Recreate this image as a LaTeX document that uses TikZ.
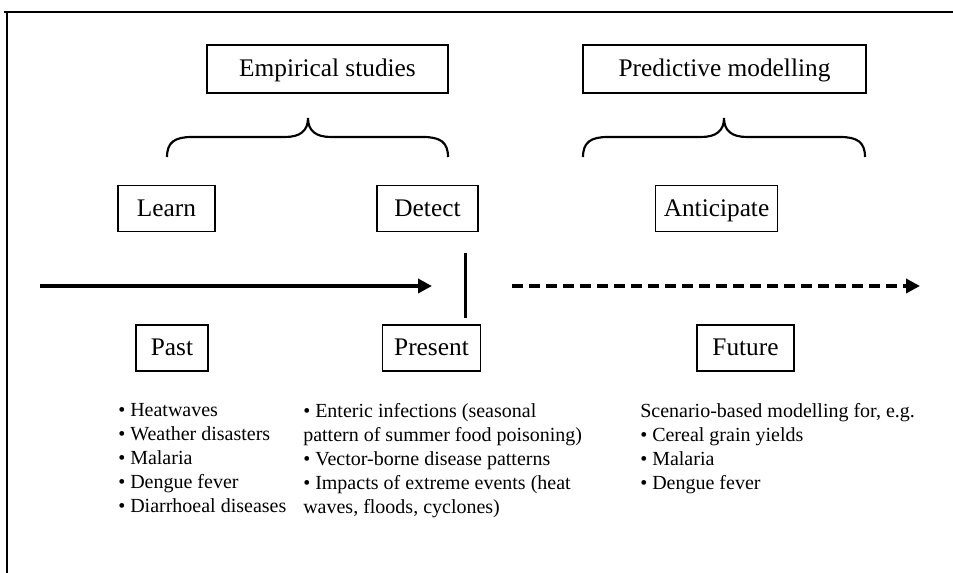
\documentclass[tikz,border=0pt]{standalone}
\usepackage{fontspec}
\setmainfont{Liberation Serif}
\usetikzlibrary{arrows.meta}
\begin{document}
\begin{tikzpicture}[x=0.75pt,y=-0.75pt,
  box/.style={draw, line width=0.8pt, inner sep=0pt, text height=15.5pt, text depth=3.5pt, font=\fontsize{19}{22}\selectfont},
  lst/.style={anchor=north west, align=left, inner sep=0pt, font=\fontsize{15}{18}\selectfont},
  bracepath/.style={line width=1.6pt},
  tl/.style={line width=3pt, -{Triangle[length=10.5pt,width=10.5pt]}}]
\useasboundingbox (0,0) rectangle (953,573);
\draw[line width=1pt] (4,12) -- (953,12) (7,12) -- (7,573);
% top boxes
\node[box, minimum width=180.75pt, minimum height=36pt] (emp) at (327.5,69) {Empirical studies};
\node[box, minimum width=212.25pt, minimum height=36pt] (pred) at (724.5,69) {Predictive modelling};
% braces
\draw[bracepath] (167,157) .. controls (167,142) and (175,137) .. (192,137) -- (285,137)
  .. controls (300,137) and (308,131) .. (308,118)
  .. controls (308,131) and (316,137) .. (331,137) -- (423,137)
  .. controls (440,137) and (448,142) .. (448,157);
\draw[bracepath] (583,157) .. controls (583,142) and (591,137) .. (608,137) -- (701,137)
  .. controls (716,137) and (724,131) .. (724,118)
  .. controls (724,131) and (732,137) .. (747,137) -- (840,137)
  .. controls (857,137) and (865,142) .. (865,157);
% middle boxes
\node[box, minimum width=72.75pt, minimum height=34.5pt] (learn) at (166.5,208.5) {Learn};
\node[box, minimum width=75.75pt, minimum height=34.5pt] (detect) at (427.5,208.5) {Detect};
\node[box, minimum width=92pt, minimum height=34.5pt] (antic) at (716.5,208.5) {Anticipate};
% timeline
\coordinate (a1) at (40,286);
\coordinate (a2) at (432,286);
\draw[tl] (a1) -- (a2);
\coordinate (v1) at (465,253);
\coordinate (v2) at (465,318);
\draw[line width=2.25pt] (v1) -- (v2);
\coordinate (d1) at (512,286);
\coordinate (d2) at (920,286);
\draw[tl, dash pattern=on 8.25pt off 4.5pt] (d1) -- (d2);
% bottom boxes
\node[box, minimum width=54pt, minimum height=34.5pt] (past) at (172,348) {Past};
\node[box, minimum width=74pt, minimum height=34.5pt] (present) at (431.5,348) {Present};
\node[box, minimum width=72.75pt, minimum height=34.5pt] (future) at (745.5,348) {Future};
% lists
\node[lst] (l1) at (118,403) {• Heatwaves\\• Weather disasters\\• Malaria\\• Dengue fever\\• Diarrhoeal diseases};
\node[lst] (l2) at (303,403) {• Enteric infections (seasonal\\pattern of summer food poisoning)\\• Vector-borne disease patterns\\• Impacts of extreme events (heat\\waves, floods, cyclones)};
\node[lst] (l3) at (640,403) {Scenario-based modelling for, e.g.\\• Cereal grain yields\\• Malaria\\• Dengue fever};
\end{tikzpicture}
\end{document}
